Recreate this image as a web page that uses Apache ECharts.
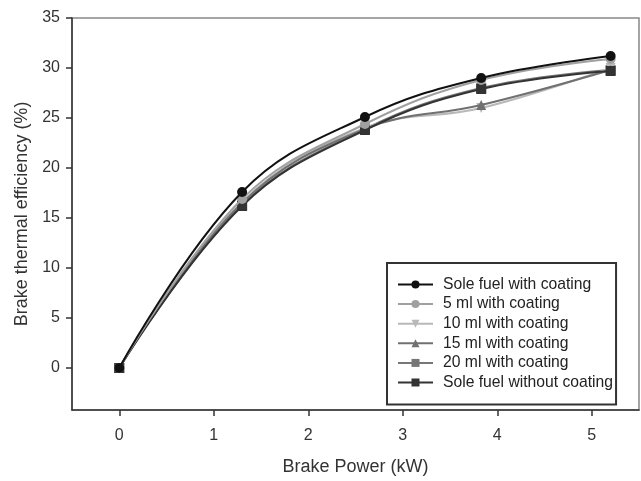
<!DOCTYPE html>
<html>
<head>
<meta charset="utf-8">
<script src="https://cdn.jsdelivr.net/npm/echarts@6/dist/echarts.min.js"></script>
<style>html,body{margin:0;padding:0;background:#fff}#c{width:641px;height:481px}</style>
</head>
<body>
<div id="c"></div>
<script>
var brakePower = [0, 1.3, 2.6, 3.83, 5.2];
var seriesNames = ['Sole fuel with coating', '5 ml with coating', '10 ml with coating', '15 ml with coating', '20 ml with coating', 'Sole fuel without coating'];
var soleWithCoating = [0, 17.6, 25.1, 29.0, 31.2];
var ml5WithCoating = [0, 16.9, 24.4, 28.8, 30.9];
var ml10WithCoating = [0, 16.6, 24.0, 26.0, 30.0];
var ml15WithCoating = [0, 16.5, 23.9, 26.3, 29.8];
var ml20WithCoating = [0, 16.3, 23.9, 28.0, 29.8];
var soleWithoutCoating = [0, 16.2, 23.8, 27.9, 29.7];
var xTicks = [0, 1, 2, 3, 4, 5];
var yTicks = [0, 5, 10, 15, 20, 25, 30, 35];

var values = [soleWithCoating, ml5WithCoating, ml10WithCoating, ml15WithCoating, ml20WithCoating, soleWithoutCoating];
var colors = ['#111111', '#a0a0a0', '#b8b8b8', '#707070', '#777777', '#333333'];
var symbols = ['circle', 'circle', 'triangle', 'triangle', 'rect', 'rect'];
var rotations = [0, 0, 180, 0, 0, 0];
var zs = [8, 7, 4, 5, 3, 6];

var font = 'Liberation Sans, Arial, sans-serif';
var chart = echarts.init(document.getElementById('c'), null, {renderer: 'canvas'});
var series = values.map(function (v, i) {
  return {
    name: seriesNames[i],
    type: 'line',
    smooth: 0.4,
    data: brakePower.map(function (x, j) { return [x, v[j]]; }),
    symbol: symbols[i],
    symbolRotate: rotations[i],
    symbolSize: 10,
    z: zs[i],
    color: colors[i],
    lineStyle: {width: 2, color: colors[i]},
    itemStyle: {color: colors[i]}
  };
});
chart.setOption({
  animation: false,
  backgroundColor: '#fff',
  grid: {left: 72, right: 2, top: 18, bottom: 67, show: true, borderColor: '#888', borderWidth: 1.5},
  xAxis: {
    type: 'value', min: -0.5, max: 5.5,
    name: 'Brake Power (kW)', nameLocation: 'middle', nameGap: 48,
    nameTextStyle: {fontFamily: font, fontSize: 18, color: '#333'},
    axisLine: {show: true, onZero: false, lineStyle: {color: '#333', width: 1.5}},
    axisTick: {show: true, inside: false, length: 6, customValues: xTicks, lineStyle: {color: '#333', width: 1.5}},
    axisLabel: {customValues: xTicks, margin: 18, fontFamily: font, fontSize: 16, color: '#333'},
    splitLine: {show: false}
  },
  yAxis: {
    type: 'value', min: -4.2, max: 35,
    name: 'Brake thermal efficiency (%)', nameLocation: 'middle', nameGap: 40,
    nameTextStyle: {fontFamily: font, fontSize: 18, color: '#333'},
    axisLine: {show: true, onZero: false, lineStyle: {color: '#333', width: 1.5}},
    axisTick: {show: true, inside: false, length: 6, customValues: yTicks, lineStyle: {color: '#333', width: 1.5}},
    axisLabel: {customValues: yTicks, margin: 12, fontFamily: font, fontSize: 16, color: '#333'},
    splitLine: {show: false}
  },
  legend: {
    orient: 'vertical', left: 387, top: 263,
    padding: [13.5, 3, 14, 10],
    borderColor: '#333', borderWidth: 2, backgroundColor: '#fff',
    itemWidth: 35, itemHeight: 10, itemGap: 3.6,
    textStyle: {fontFamily: font, fontSize: 15.7, color: '#222', padding: [0, 0, 0, 5]},
    data: seriesNames
  },
  series: series
});
</script>
</body>
</html>
